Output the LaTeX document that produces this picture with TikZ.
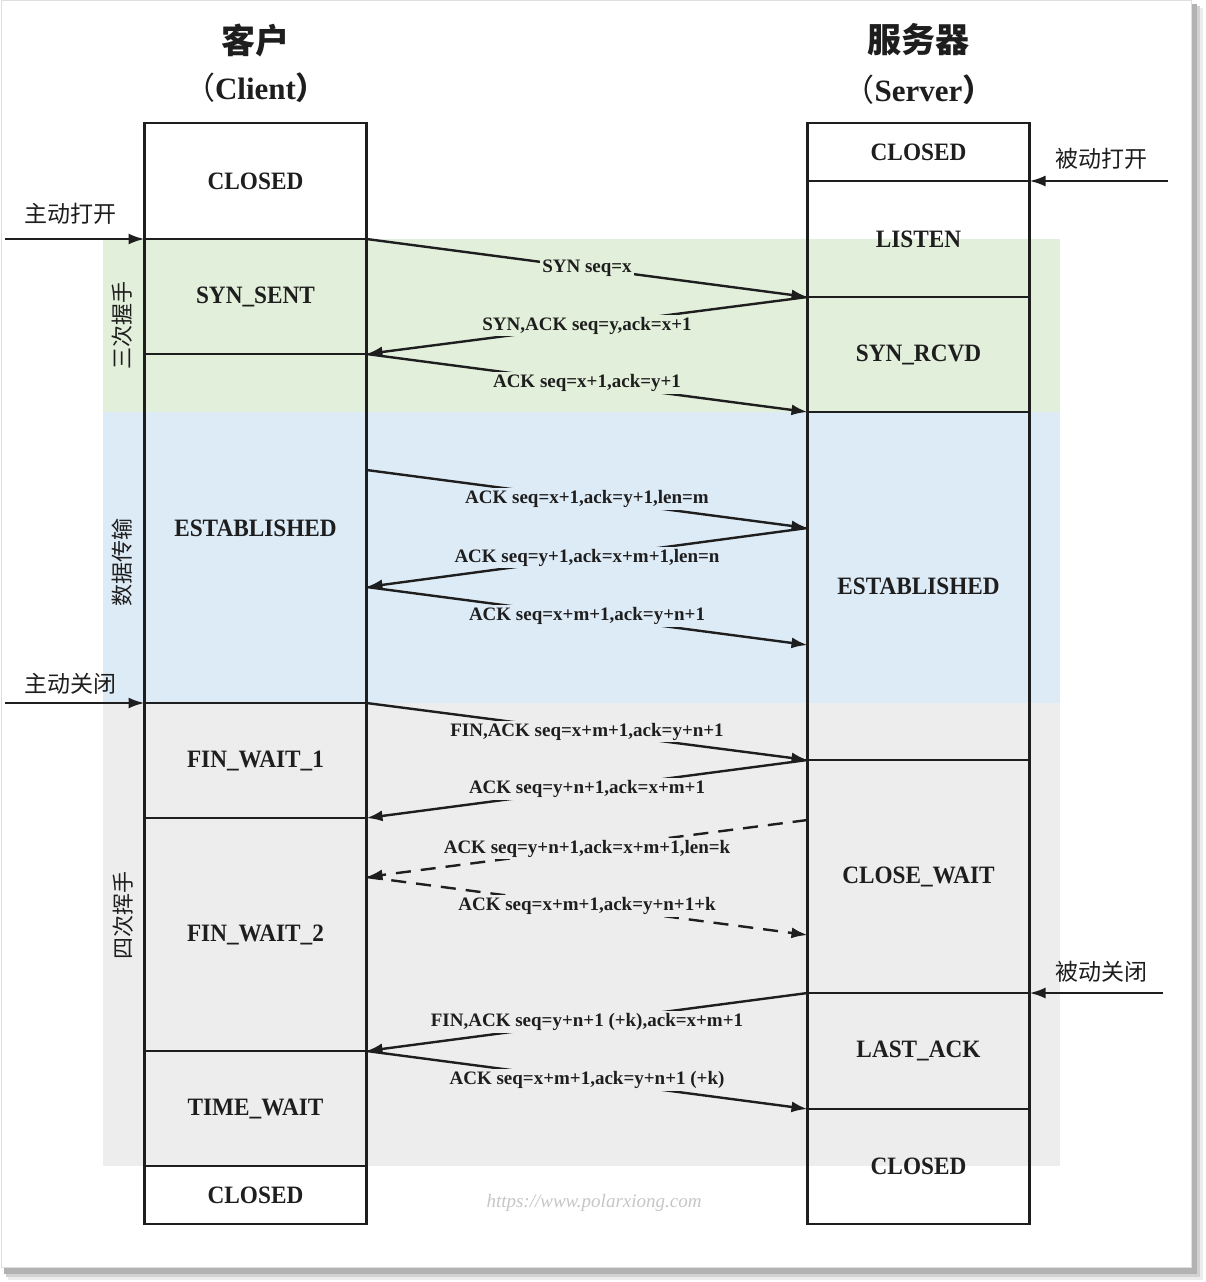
\documentclass[tikz,border=0pt]{standalone}
\usepackage{fontspec}
\setmainfont{Liberation Serif}
\newfontfamily\cjk{Noto Sans CJK SC}
\newfontfamily\stfont[FakeStretch=0.93]{Liberation Serif}
\usetikzlibrary{arrows.meta}
\definecolor{lc}{RGB}{30,30,30}
\definecolor{bgreen}{RGB}{226,239,218}
\definecolor{bblue}{RGB}{221,235,247}
\definecolor{bgray}{RGB}{237,237,237}
\begin{document}
\begin{tikzpicture}[x=1pt,y=-1pt,
  stbox/.style={draw=lc, line width=2.4pt, minimum width=222pt, inner sep=0pt, outer sep=0pt,
    font=\stfont\bfseries\fontsize{25}{28}\selectfont, text=lc},
  msg/.style={line width=2.4pt, draw=lc, -{Latex[length=16pt,width=11pt]}},
  dmsg/.style={msg, dash pattern=on 15pt off 10pt},
  lab/.style={font=\bfseries\fontsize{19}{22}\selectfont, inner sep=2pt, text=lc},
  side/.style={font=\cjk\fontsize{22}{24}\selectfont, rotate=90, text=lc},
  act/.style={font=\cjk\fontsize{23}{26}\selectfont, text=lc},
  ttl/.style={font=\fontsize{34}{40}\selectfont, text=lc}]
\useasboundingbox (0,0) rectangle (1206,1282);
% page with shadow
\fill[gray!15] (8,8) rectangle (1203,1280);
\fill[gray!35] (6,6) rectangle (1200,1277);
\fill[gray!60] (4,4) rectangle (1197,1274);
\filldraw[fill=white, draw=gray!25, line width=0.6pt] (1,0) rectangle (1191,1267);
% bands
\fill[bgreen] (103,239) rectangle (1060,412);
\fill[bblue] (103,412) rectangle (1060,703);
\fill[bgray] (103,703) rectangle (1060,1166);
% titles
\node[ttl, font=\cjk\bfseries\fontsize{34}{40}\selectfont] (tc1) at (255.5,40) {客户};
\node[ttl] (tc2) at (255.5,88) {{\cjk\fontsize{31}{36}\selectfont （}\bfseries\fontsize{31}{36}\selectfont Client{\cjk\fontsize{31}{36}\selectfont ）}};
\node[ttl, font=\cjk\bfseries\fontsize{34}{40}\selectfont] (ts1) at (918.5,40) {服务器};
\node[ttl] (ts2) at (918.5,90) {{\cjk\fontsize{31}{36}\selectfont （}\bfseries\fontsize{31}{36}\selectfont Server{\cjk\fontsize{31}{36}\selectfont ）}};
% side labels
\node[side] (l1) at (122,325) {三次握手};
\node[side] (l2) at (122,562) {数据传输};
\node[side] (l3) at (123,915) {四次挥手};
% client states
\node[stbox, minimum height=116pt] (c1) at (255.5,181) {CLOSED};
\node[stbox, minimum height=115pt] (c2) at (255.5,296.5) {SYN\_SENT};
\node[stbox, minimum height=349pt] (c3) at (255.5,528.5) {ESTABLISHED};
\node[stbox, minimum height=115pt] (c4) at (255.5,760.5) {FIN\_WAIT\_1};
\node[stbox, minimum height=233pt] (c5) at (255.5,934.5) {FIN\_WAIT\_2};
\node[stbox, minimum height=115pt] (c6) at (255.5,1108.5) {TIME\_WAIT};
\node[stbox, minimum height=58pt] (c7) at (255.5,1195) {CLOSED};
% server states
\node[stbox, minimum height=58pt] (s1) at (918.5,152) {CLOSED};
\node[stbox, minimum height=116pt] (s2) at (918.5,239) {LISTEN};
\node[stbox, minimum height=115pt] (s3) at (918.5,354.5) {SYN\_RCVD};
\node[stbox, minimum height=348pt] (s4) at (918.5,586) {ESTABLISHED};
\node[stbox, minimum height=233pt] (s5) at (918.5,876.5) {CLOSE\_WAIT};
\node[stbox, minimum height=116pt] (s6) at (918.5,1051) {LAST\_ACK};
\node[stbox, minimum height=115pt] (s7) at (918.5,1166.5) {CLOSED};
% auxiliary coordinates
\coordinate (d1) at (366.5,470);
\coordinate (d2) at (807.5,528);
\coordinate (d3) at (366.5,587);
\coordinate (d4) at (807.5,645);
\coordinate (e1) at (807.5,820);
\coordinate (e2) at (366.5,877);
\coordinate (e3) at (807.5,935);
\coordinate (a1) at (5,239);
\coordinate (a2) at (5,703);
\coordinate (b1) at (1168,181);
\coordinate (b2) at (1163,993);
% outside arrows
\draw[msg] (a1) -- (c2.north west);
\draw[msg] (a2) -- (c4.north west);
\draw[msg] (b1) -- (s2.north east);
\draw[msg] (b2) -- (s6.north east);
\node[act] (o1) at (70,214) {主动打开};
\node[act] (o2) at (70,684) {主动关闭};
\node[act] (o3) at (1101,159) {被动打开};
\node[act] (o4) at (1101,972) {被动关闭};
% three-way handshake
\draw[msg] (c2.north east) -- node[lab, fill=bgreen] (t1) {SYN seq=x} (s3.north west);
\draw[msg] (s3.north west) -- node[lab, fill=bgreen] (t2) {SYN,ACK seq=y,ack=x+1} (c3.north east);
\draw[msg] (c3.north east) -- node[lab, fill=bgreen] (t3) {ACK seq=x+1,ack=y+1} (s4.north west);
% data transfer
\draw[msg] (d1) -- node[lab, fill=bblue] (t4) {ACK seq=x+1,ack=y+1,len=m} (d2);
\draw[msg] (d2) -- node[lab, fill=bblue] (t5) {ACK seq=y+1,ack=x+m+1,len=n} (d3);
\draw[msg] (d3) -- node[lab, fill=bblue] (t6) {ACK seq=x+m+1,ack=y+n+1} (d4);
% four-way handshake
\draw[msg] (c4.north east) -- node[lab, fill=bgray] (t7) {FIN,ACK seq=x+m+1,ack=y+n+1} (s5.north west);
\draw[msg] (s5.north west) -- node[lab, fill=bgray] (t8) {ACK seq=y+n+1,ack=x+m+1} (c5.north east);
\draw[dmsg] (e1) -- node[lab, fill=bgray] (t9) {ACK seq=y+n+1,ack=x+m+1,len=k} (e2);
\draw[dmsg] (e2) -- node[lab, fill=bgray] (t10) {ACK seq=x+m+1,ack=y+n+1+k} (e3);
\draw[msg] (s6.north west) -- node[lab, fill=bgray] (t11) {FIN,ACK seq=y+n+1 (+k),ack=x+m+1} (c6.north east);
\draw[msg] (c6.north east) -- node[lab, fill=bgray] (t12) {ACK seq=x+m+1,ack=y+n+1 (+k)} (s7.north west);
% watermark
\node[font=\itshape\fontsize{19}{22}\selectfont, text=gray!45] (wm) at (594,1203) {https://www.polarxiong.com};
\end{tikzpicture}
\end{document}
